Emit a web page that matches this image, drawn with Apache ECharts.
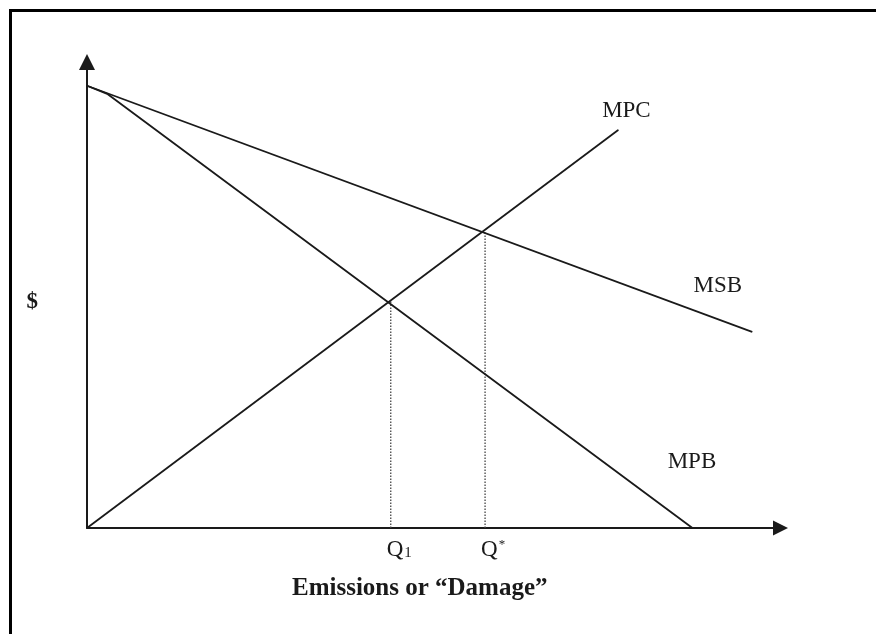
<!DOCTYPE html>
<html><head><meta charset="utf-8">
<script src="https://cdn.jsdelivr.net/npm/echarts@6/dist/echarts.min.js"></script>
<style>html,body{margin:0;padding:0;background:#fff}#c{width:876px;height:634px}</style>
</head><body><div id="c"></div>
<script>
// ---- data (abstract units: x 0..100, y 0..100) ----
const msbX = [0, 95.9];
const msbY = [94.9, 42.1];
const mpbX = [0, 3.0, 87.3];
const mpbY = [94.9, 93.1, 0];
const mpcX = [0, 76.6];
const mpcY = [0, 85.4];
const qX = [43.8, 57.4];
const qY = [48.7, 63.7];
const qTickLabels = ['Q1', 'Q*'];
const curveNames = ['MSB', 'MPB', 'MPC'];
const xTitle = 'Emissions or “Damage”';
const yTitle = '$';

const FONT = '"Liberation Serif", "Times New Roman", serif';
const INK = '#1a1a1a';

function pts(xs, ys) { return xs.map((x, i) => [x, ys[i]]); }
function withEndLabel(xs, ys, name, pos) {
  const d = pts(xs, ys).map(p => ({ value: p }));
  const last = d[d.length - 1];
  last.symbol = 'circle';
  last.symbolSize = 1;
  last.label = {
    show: true, formatter: name, position: pos, align: 'center', verticalAlign: 'middle',
    fontFamily: FONT, fontSize: 23, color: INK
  };
  return d;
}
const curve = (name, data) => ({
  type: 'line', name, data, symbol: 'none', showSymbol: true,
  lineStyle: { color: INK, width: 1.8 }, itemStyle: { color: INK },
  animation: false, silent: true, z: 3
});
const guide = (i) => ({
  type: 'line', data: [[qX[i], 0], [qX[i], qY[i]]], symbol: 'none',
  lineStyle: { color: '#444', width: 1.3, type: [1.5, 1.5] }, animation: false, silent: true, z: 2
});

const option = {
  backgroundColor: '#fff',
  animation: false,
  grid: { left: 87, top: 62, right: 95.5, bottom: 106, containLabel: false },
  graphic: [
    { type: 'line', shape: { x1: 9, y1: 10.5, x2: 876, y2: 10.5 }, style: { stroke: '#000', lineWidth: 3 } },
    { type: 'line', shape: { x1: 10.5, y1: 9, x2: 10.5, y2: 634 }, style: { stroke: '#000', lineWidth: 3 } }
  ],
  xAxis: {
    type: 'value', min: 0, max: 100,
    splitLine: { show: false },
    axisTick: { show: false },
    axisLine: { show: true, onZero: false, lineStyle: { color: INK, width: 2 }, symbol: ['none', 'triangle'], symbolSize: [15, 15] },
    axisLabel: {
      show: true, customValues: qX, align: 'left', margin: 10,
      formatter: function (v) {
        const i = qX.indexOf(v);
        const lab = qTickLabels[i] || '';
        return '{q|' + lab[0] + '}{' + (lab[1] === '*' ? 'sup' : 'sub') + '|' + lab[1] + '}';
      },
      rich: {
        q: { fontFamily: FONT, fontSize: 23, color: INK, padding: [0, 0, 0, -4] },
        sub: { fontFamily: FONT, fontSize: 15, color: INK, verticalAlign: 'bottom', padding: [0, 0, 0, 1] },
        sup: { fontFamily: FONT, fontSize: 13, color: INK, verticalAlign: 'top', padding: [0, 0, 0, 1] }
      }
    },
    name: xTitle, nameLocation: 'middle', nameGap: 48,
    nameTextStyle: { fontFamily: FONT, fontWeight: 'bold', fontSize: 25, color: INK, padding: [0, 28, 0, 0] }
  },
  yAxis: {
    type: 'value', min: 0, max: 100,
    splitLine: { show: false },
    axisTick: { show: false },
    axisLabel: { show: false },
    axisLine: { show: true, onZero: false, lineStyle: { color: INK, width: 2 }, symbol: ['none', 'triangle'], symbolSize: [16, 16] },
    name: yTitle, nameLocation: 'middle', nameGap: 49, nameRotate: 0,
    nameTextStyle: { fontFamily: FONT, fontWeight: 'bold', fontSize: 23, color: INK, verticalAlign: 'top', lineHeight: 14 }
  },
  series: [
    curve(curveNames[0], withEndLabel(msbX, msbY, curveNames[0], [-33.7, -45.7])),
    curve(curveNames[1], withEndLabel(mpbX, mpbY, curveNames[1], [0, -66])),
    curve(curveNames[2], withEndLabel(mpcX, mpcY, curveNames[2], [8.7, -19])),
    guide(0), guide(1)
  ]
};
const chart = echarts.init(document.getElementById('c'), null, { renderer: 'canvas' });
chart.setOption(option);
</script></body></html>
